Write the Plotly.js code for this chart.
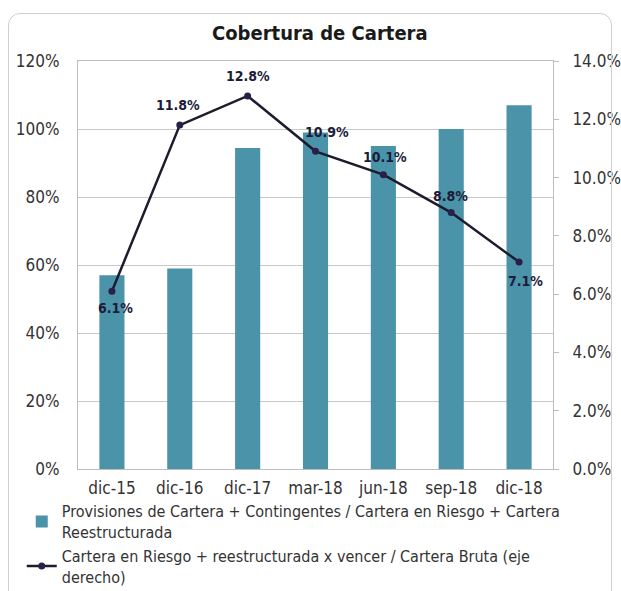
<!DOCTYPE html>
<html>
<head>
<meta charset="utf-8">
<script src="https://cdn.plot.ly/plotly-3.0.1.min.js"></script>
<style>
html,body{margin:0;padding:0;background:#fff;}
#wrap{position:relative;width:621px;height:591px;}
#chart{width:621px;height:591px;}
#frame{position:absolute;left:8px;top:13px;width:604px;height:590px;border:1.5px solid #cfcfcf;border-radius:12px;pointer-events:none;box-sizing:border-box;}
</style>
</head>
<body>
<div id="wrap"><div id="chart"></div><div id="frame"></div></div>
<script>
const categories = ["dic-15","dic-16","dic-17","mar-18","jun-18","sep-18","dic-18"];
const coberturaValues = [0.57, 0.59, 0.944, 0.99, 0.95, 1.0, 1.07];
const riesgoValues = [0.061, 0.118, 0.128, 0.109, 0.101, 0.088, 0.071];
const riesgoLabels = ["6.1%","11.8%","12.8%","10.9%","10.1%","8.8%","7.1%"];
const barName = "Provisiones de Cartera + Contingentes / Cartera en Riesgo + Cartera<br>Reestructurada";
const lineName = "Cartera en Riesgo + reestructurada x vencer / Cartera Bruta (eje<br>derecho)";
const titleText = "Cobertura de Cartera";

// label placement (style only)
const labelDx = [4, -2, 0, 11, 2, -1, 6];
const labelDy = [-17, 20, 20, 19, 18, 17, -19];

const font = "Tahoma, 'DejaVu Sans Condensed', 'Liberation Sans', sans-serif";

const traces = [
  {
    type: "bar",
    x: categories,
    y: coberturaValues,
    name: barName,
    marker: {color: "#4a93a8"},
    hoverinfo: "skip"
  },
  {
    type: "scatter",
    mode: "lines+markers",
    x: categories,
    y: riesgoValues,
    yaxis: "y2",
    name: lineName,
    line: {color: "#1c1c2e", width: 2.5},
    marker: {color: "#2a1f4a", size: 7},
    cliponaxis: false
  }
];

const annotations = categories.map((c, i) => ({
  x: c, y: riesgoValues[i], xref: "x", yref: "y2",
  text: "<b>" + riesgoLabels[i] + "</b>",
  showarrow: false,
  xshift: labelDx[i], yshift: labelDy[i],
  font: {family: font, size: 14, color: "#1c1c3a"}
}));

const layout = {
  width: 621,
  height: 591,
  paper_bgcolor: "rgba(0,0,0,0)",
  plot_bgcolor: "#ffffff",
  margin: {l: 78, r: 68, t: 61, b: 122, autoexpand: false},
  title: {text: "<b>" + titleText + "</b>", x: 0.515, xanchor: "center", y: 0.945, yanchor: "middle", font: {family: font, size: 20, color: "#1a1a1a"}},
  font: {family: font, size: 17, color: "#333333"},
  bargap: 0.63,
  showlegend: true,
  annotations: annotations,
  legend: {
    orientation: "v",
    xref: "container", yref: "container",
    x: 0.035, y: 0.164, xanchor: "left", yanchor: "top",
    font: {family: font, size: 16, color: "#333333"},
    tracegroupgap: 0,
    itemwidth: 30
  },
  xaxis: {
    type: "category",
    showline: true, linecolor: "#bdbdbd", linewidth: 1,
    mirror: true,
    ticks: "", ticklabelstandoff: 4,
    tickfont: {family: font, size: 17, color: "#333"},
    showgrid: false
  },
  yaxis: {
    range: [0, 1.2], dtick: 0.2, tick0: 0, tickformat: ".0%",
    showgrid: true, gridcolor: "#c8c8c8", gridwidth: 1,
    showline: true, linecolor: "#bdbdbd",
    ticks: "", ticklabelstandoff: 14,
    tickfont: {family: font, size: 17, color: "#333"},
    zeroline: false
  },
  yaxis2: {
    overlaying: "y", side: "right",
    range: [0, 0.14], dtick: 0.02, tick0: 0, tickformat: ".1%",
    showgrid: false, showline: true, linecolor: "#bdbdbd",
    ticks: "outside", ticklen: 5, tickcolor: "#bdbdbd",
    ticklabelstandoff: 10,
    tickfont: {family: font, size: 17, color: "#333"},
    zeroline: false
  }
};

Plotly.newPlot("chart", traces, layout, {displayModeBar: false, staticPlot: true});
</script>
</body>
</html>
